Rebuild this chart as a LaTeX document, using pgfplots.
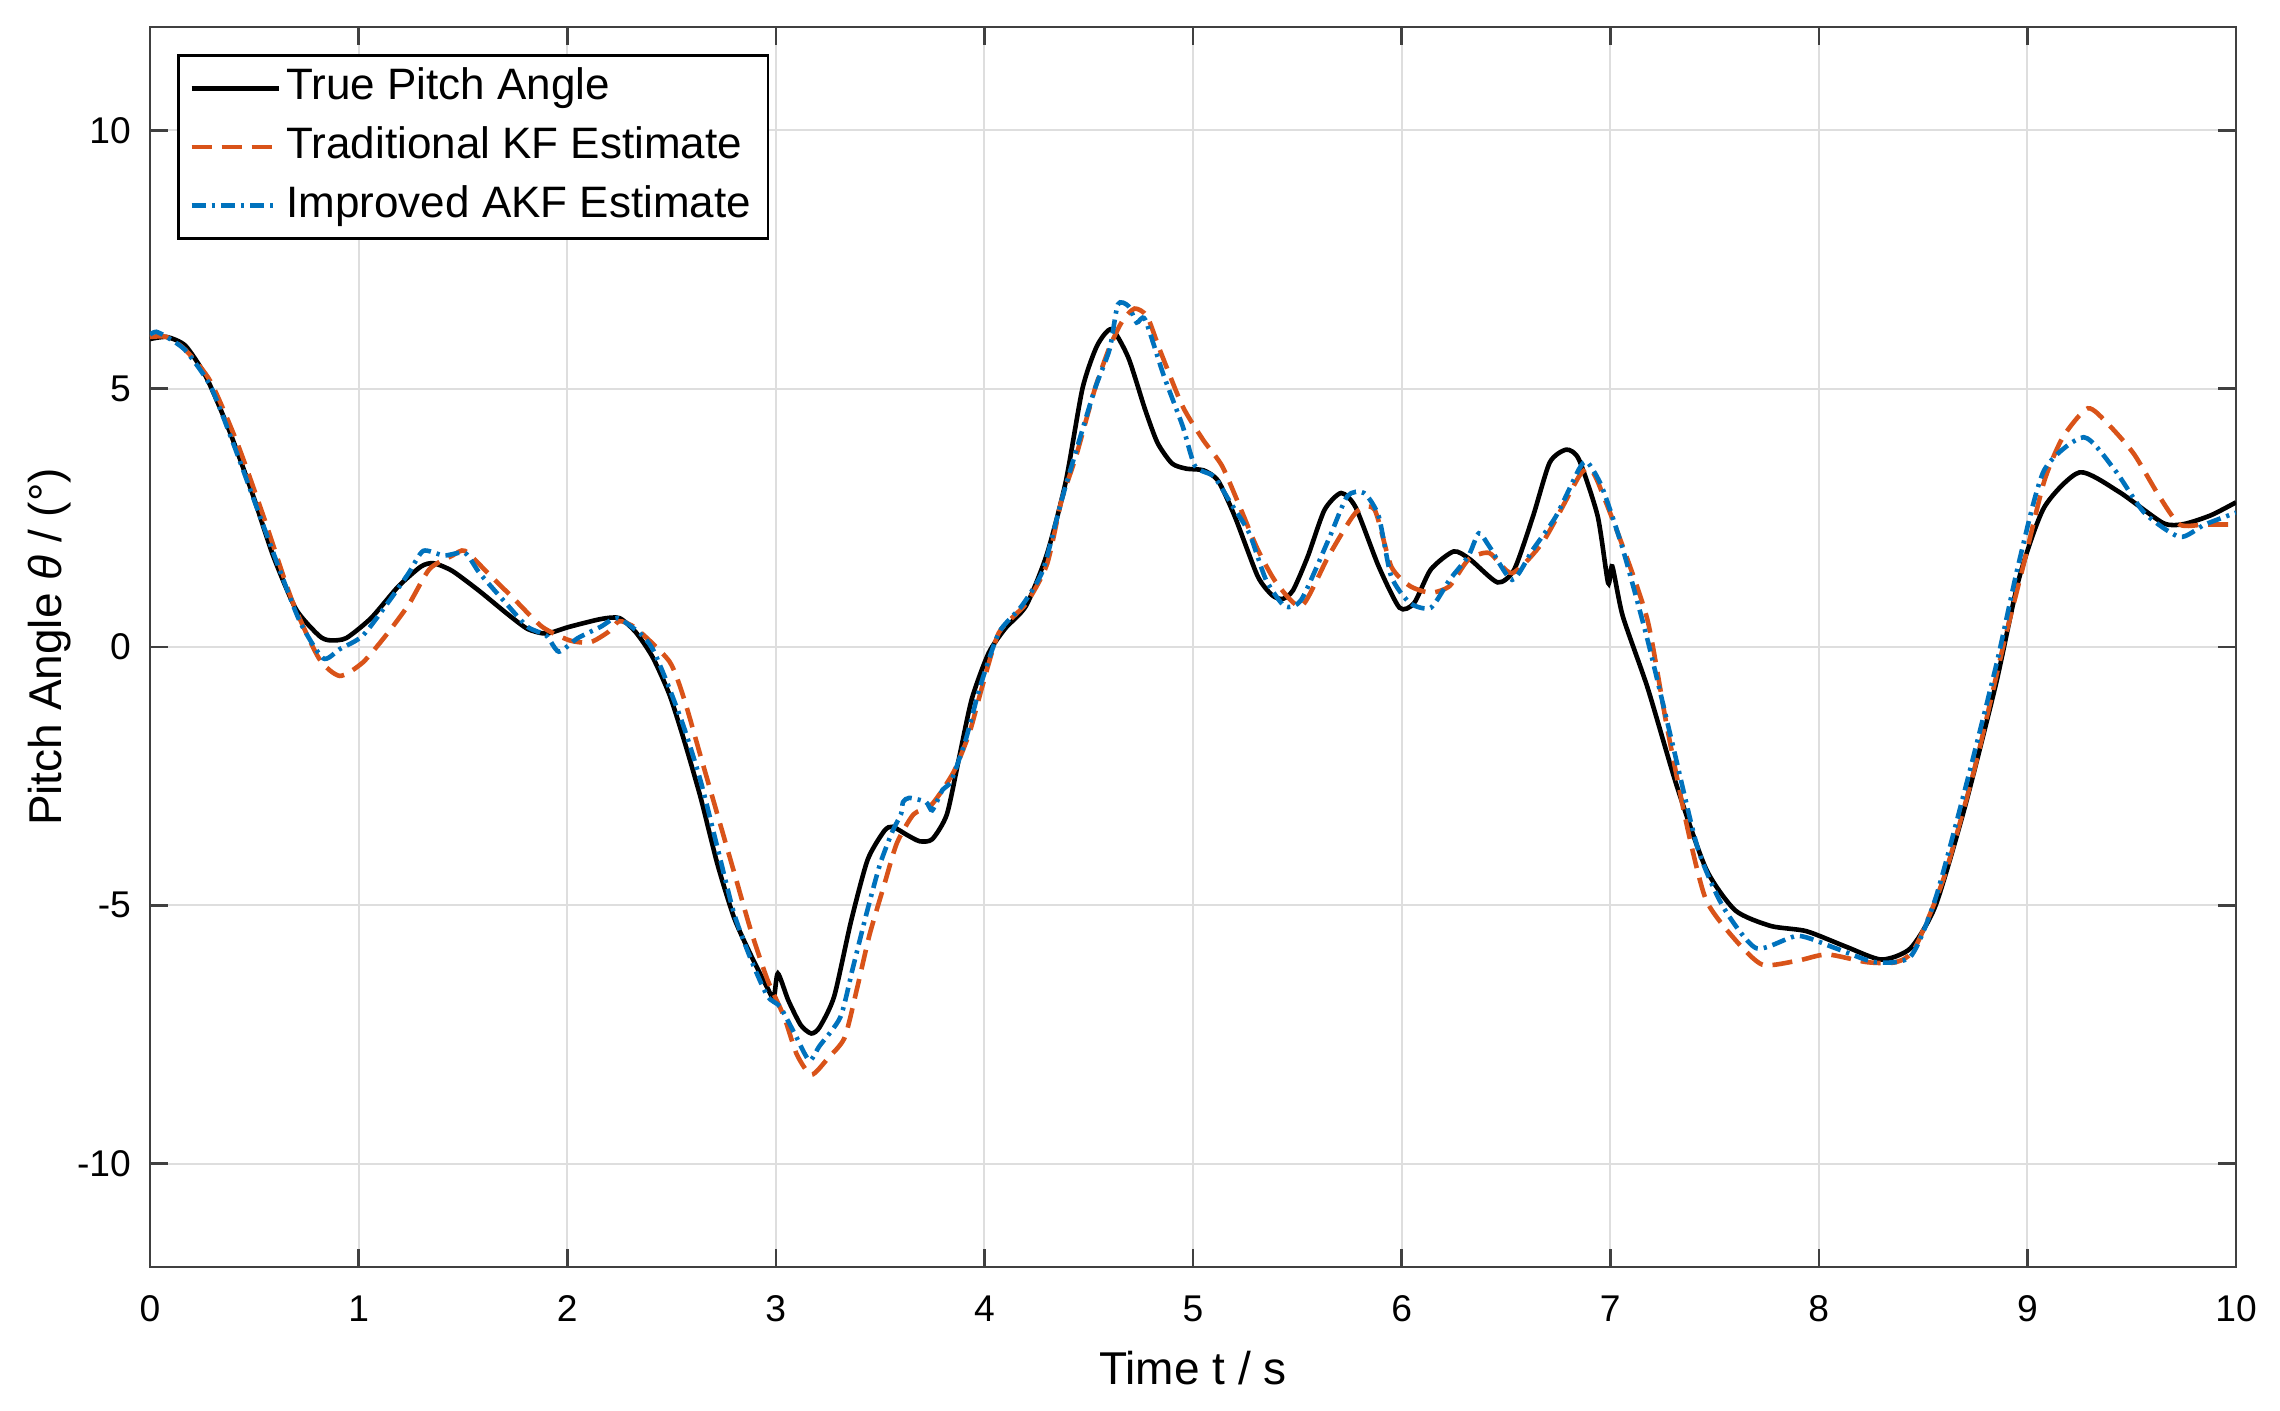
\documentclass[border=0pt]{standalone}
\usepackage{fontspec}
\setmainfont{Liberation Sans}
\usepackage{pgfplots}
\pgfplotsset{compat=1.18}
\definecolor{mred}{RGB}{217,83,25}
\definecolor{mblue}{RGB}{0,114,189}
\begin{document}
\begin{tikzpicture}
\begin{axis}[
  scale only axis,
  width=521.5pt, height=310pt,
  xmin=0, xmax=10, ymin=-12, ymax=12,
  xtick={0,1,2,3,4,5,6,7,8,9,10},
  xticklabels={0,1,2,3,4,5,6,7,8,9,10},
  ytick={-10,-5,0,5,10},
  yticklabels={-10,-5,0,5,10},
  /pgf/number format/assume math mode=true,
  tick label style={font=\fontsize{9.3}{11}\selectfont, text=black},
  xticklabel style={anchor=base, yshift=-13.75pt},
  yticklabel style={anchor=east, xshift=-1.25pt},
  grid=major,
  major grid style={color=black!13, line width=0.5pt},
  axis line style={color=black!75, line width=0.65pt},
  tick style={color=black!75, line width=0.65pt},
  major tick length=4.5pt,
  tick align=inside,
  xlabel={Time t / s},
  ylabel={Pitch Angle \textit{θ} / (°)},
  label style={font=\fontsize{11.5}{13}\selectfont},
  xlabel style={at={([yshift=-29.5pt]axis description cs:0.5,0)}, anchor=base},
  ylabel style={at={([xshift=-22pt]axis description cs:0,0.5)}, anchor=base, rotate=0},
  legend image code/.code={\draw[#1] (0pt,0pt) -- (21.75pt,0pt);},
  legend style={at={(0.013,0.978)}, anchor=north west, draw=black, line width=0.6pt,
    fill=white, font=\fontsize{11}{13}\selectfont, inner xsep=2.75pt, inner ysep=2.1pt,
    row sep=2.35pt, column sep=0pt,
    nodes={inner xsep=1.4pt, inner ysep=1pt, text height=8pt, text depth=2.3pt}},
  legend cell align=left,
]
\coordinate (bl) at (rel axis cs:0,0);
\coordinate (tr) at (rel axis cs:1,1);

\addplot[black, line width=1.15pt, smooth, tension=0.4] coordinates {
(0,5.96) (0.08,6.0) (0.17,5.83) (0.27,5.22) (0.38,4.19) (0.49,2.98) (0.59,1.77) (0.7,0.73) (0.81,0.22) (0.86,0.13) (0.94,0.17) (1.06,0.56) (1.19,1.17) (1.3,1.56) (1.36,1.62) (1.45,1.47) (1.58,1.08) (1.71,0.65) (1.81,0.35) (1.9,0.26) (2.01,0.39) (2.16,0.54) (2.25,0.56) (2.33,0.28) (2.41,-0.2) (2.49,-0.92) (2.56,-1.8) (2.64,-2.92) (2.72,-4.2) (2.8,-5.24) (2.88,-5.96) (2.96,-6.6) (2.99,-6.8) (3.01,-6.32) (3.06,-6.84) (3.12,-7.32) (3.17,-7.48) (3.21,-7.36) (3.28,-6.76) (3.36,-5.32) (3.44,-4.12) (3.52,-3.56) (3.56,-3.48) (3.63,-3.64) (3.69,-3.76) (3.75,-3.72) (3.82,-3.24) (3.88,-2.12) (3.94,-1.0) (4.02,-0.12) (4.1,0.36) (4.2,0.8) (4.3,1.8) (4.39,3.2) (4.47,5.0) (4.54,5.83) (4.61,6.15) (4.69,5.6) (4.77,4.6) (4.83,3.95) (4.9,3.55) (4.97,3.45) (5.05,3.42) (5.12,3.22) (5.2,2.53) (5.31,1.37) (5.38,1.0) (5.43,0.93) (5.48,1.1) (5.55,1.75) (5.63,2.65) (5.71,2.98) (5.78,2.7) (5.89,1.56) (5.99,0.76) (6.06,0.85) (6.14,1.5) (6.25,1.85) (6.33,1.69) (6.46,1.25) (6.54,1.5) (6.63,2.53) (6.71,3.57) (6.79,3.82) (6.85,3.63) (6.94,2.53) (6.99,1.24) (7.01,1.56) (7.06,0.6) (7.18,-0.8) (7.32,-2.7) (7.46,-4.3) (7.6,-5.1) (7.77,-5.4) (7.94,-5.5) (8.13,-5.8) (8.3,-6.05) (8.44,-5.83) (8.56,-5.0) (8.7,-3.1) (8.85,-0.7) (8.96,1.33) (9.08,2.7) (9.25,3.38) (9.44,3.0) (9.65,2.4) (9.75,2.38) (9.88,2.55) (10,2.8)
};
\addlegendentry{True Pitch Angle}

\addplot[mred, line width=1.15pt, dash pattern=on 5pt off 2.5pt, smooth, tension=0.4] coordinates {
(0,6.0) (0.08,6.0) (0.17,5.75) (0.29,5.14) (0.42,3.93) (0.55,2.46) (0.68,0.91) (0.81,-0.22) (0.91,-0.56) (1.02,-0.3) (1.13,0.22) (1.24,0.82) (1.34,1.51) (1.45,1.77) (1.51,1.86) (1.62,1.43) (1.75,0.91) (1.88,0.39) (2.01,0.13) (2.11,0.09) (2.2,0.3) (2.25,0.5) (2.33,0.36) (2.49,-0.28) (2.56,-1.0) (2.64,-2.12) (2.72,-3.24) (2.8,-4.36) (2.88,-5.48) (2.96,-6.44) (3.04,-7.16) (3.1,-7.88) (3.17,-8.28) (3.25,-7.96) (3.33,-7.56) (3.39,-6.6) (3.45,-5.56) (3.52,-4.6) (3.58,-3.8) (3.66,-3.24) (3.74,-3.08) (3.8,-2.76) (3.86,-2.36) (3.93,-1.64) (3.99,-0.76) (4.07,0.28) (4.2,0.84) (4.3,1.6) (4.37,2.84) (4.44,3.7) (4.53,5.0) (4.6,5.8) (4.66,6.3) (4.72,6.55) (4.78,6.4) (4.84,5.76) (4.95,4.66) (5.05,4.0) (5.14,3.5) (5.23,2.66) (5.31,1.89) (5.4,1.24) (5.52,0.79) (5.65,1.76) (5.78,2.6) (5.87,2.66) (5.95,1.56) (6.04,1.18) (6.14,1.05) (6.23,1.18) (6.32,1.69) (6.42,1.82) (6.53,1.43) (6.68,2.05) (6.85,3.3) (6.9,3.45) (6.94,3.2) (7.06,1.95) (7.18,0.5) (7.27,-1.5) (7.37,-3.5) (7.46,-4.9) (7.6,-5.67) (7.73,-6.15) (7.9,-6.07) (8.04,-5.95) (8.23,-6.1) (8.37,-6.1) (8.46,-5.83) (8.6,-4.46) (8.75,-2.3) (8.89,0.12) (8.98,1.57) (9.08,3.2) (9.17,4.06) (9.29,4.62) (9.39,4.3) (9.51,3.74) (9.63,2.93) (9.73,2.37) (9.85,2.37) (10,2.37)
};
\addlegendentry{Traditional KF Estimate}

\addplot[mblue, line width=1.15pt, dash pattern=on 3.5pt off 1.5pt on 0.8pt off 1.5pt, smooth, tension=0.4] coordinates {
(0,6.05) (0.03,6.1) (0.08,6.0) (0.17,5.74) (0.29,5.05) (0.4,3.93) (0.51,2.72) (0.62,1.51) (0.72,0.48) (0.83,-0.22) (0.91,-0.04) (1.02,0.22) (1.15,0.91) (1.24,1.43) (1.31,1.86) (1.41,1.77) (1.51,1.82) (1.58,1.43) (1.71,0.83) (1.81,0.39) (1.9,0.22) (1.96,-0.09) (2.05,0.17) (2.16,0.39) (2.24,0.56) (2.35,0.26) (2.41,-0.04) (2.48,-0.7) (2.56,-1.56) (2.64,-2.6) (2.72,-3.88) (2.8,-5.16) (2.88,-6.04) (2.96,-6.76) (3.02,-6.96) (3.09,-7.48) (3.16,-8.0) (3.21,-7.72) (3.31,-7.16) (3.37,-6.2) (3.44,-5.08) (3.5,-4.2) (3.56,-3.56) (3.6,-3.24) (3.61,-3.0) (3.64,-2.92) (3.72,-3.0) (3.75,-3.16) (3.8,-2.76) (3.84,-2.6) (3.91,-1.8) (3.98,-0.76) (4.07,0.28) (4.18,0.8) (4.28,1.48) (4.37,2.84) (4.44,3.8) (4.53,5.0) (4.6,5.76) (4.64,6.63) (4.69,6.6) (4.73,6.28) (4.77,6.34) (4.86,5.25) (4.95,4.28) (5.01,3.5) (5.1,3.3) (5.18,2.79) (5.27,2.2) (5.35,1.3) (5.44,0.79) (5.52,0.92) (5.65,2.08) (5.74,2.92) (5.82,2.98) (5.89,2.53) (5.95,1.37) (6.04,0.85) (6.14,0.76) (6.23,1.3) (6.32,1.76) (6.37,2.2) (6.42,1.95) (6.53,1.3) (6.63,1.89) (6.74,2.53) (6.85,3.44) (6.89,3.58) (6.96,3.1) (7.06,1.9) (7.18,0.12) (7.3,-1.9) (7.42,-3.9) (7.54,-5.02) (7.7,-5.83) (7.9,-5.59) (8.08,-5.83) (8.27,-6.1) (8.44,-5.99) (8.56,-4.86) (8.7,-2.77) (8.85,-0.36) (8.96,1.65) (9.08,3.42) (9.27,4.06) (9.42,3.42) (9.56,2.6) (9.73,2.13) (9.85,2.37) (10,2.6)
};
\addlegendentry{Improved AKF Estimate}
\end{axis}
\pgfresetboundingbox
\path ([shift={(-37.5pt,-36pt)}]bl) rectangle ([shift={(11pt,6.75pt)}]tr);
\end{tikzpicture}
\end{document}
